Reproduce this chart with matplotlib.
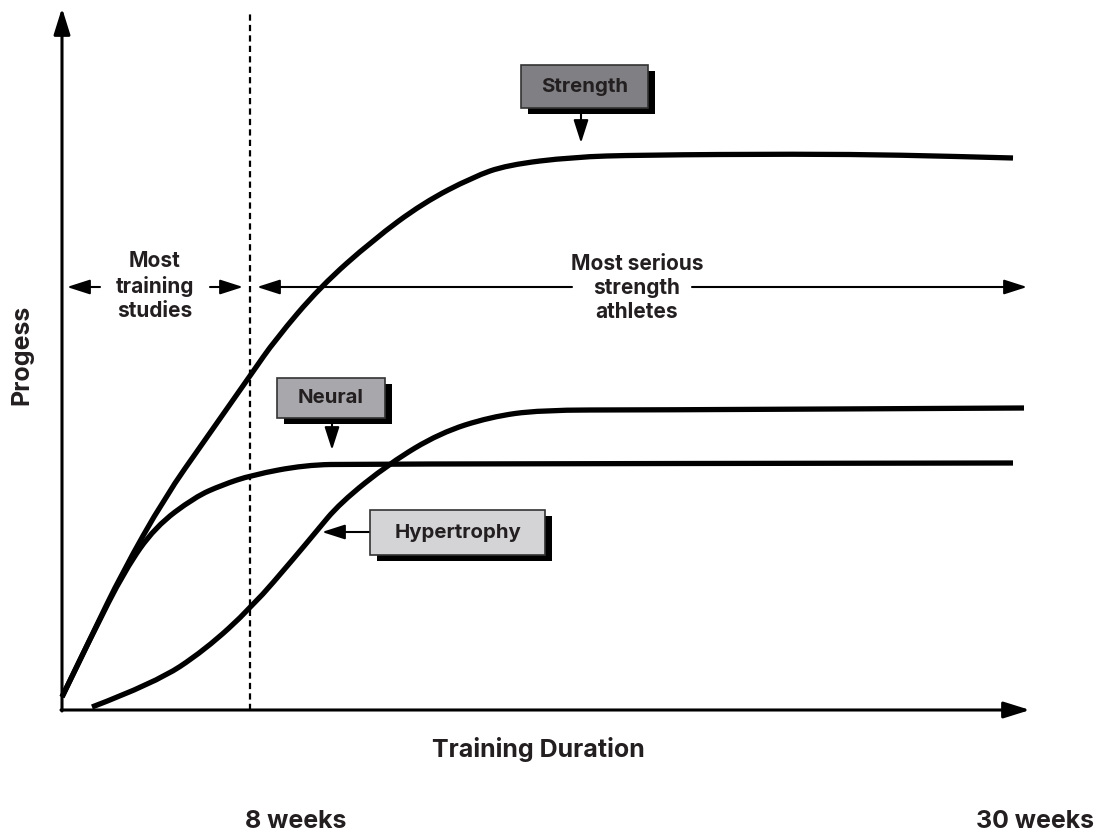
import matplotlib.pyplot as plt
from matplotlib.patches import Rectangle, PathPatch
from matplotlib.path import Path

plt.rcParams['font.family'] = ['Inter', 'DejaVu Sans']

# curve values (duration units, progress units)
strength_x = [0, 30, 60, 103, 143, 190, 213, 258, 311, 361, 411, 445, 511, 578, 738, 838, 951]
strength_y = [13, 75, 137, 213, 270, 337, 370, 423, 470, 507, 533, 545, 553, 555, 556, 555, 552]

neural_x = [0, 30, 63, 93, 133, 160, 190, 243, 293, 951]
neural_y = [13, 75, 140, 183, 213, 225, 235, 245, 246, 247]

hyper_x = [30, 93, 143, 190, 233, 253, 278, 328, 378, 428, 478, 578, 962]
hyper_y = [3, 27, 60, 103, 153, 177, 207, 247, 277, 293, 300, 300, 302]

week_marks = [186, 973]
week_labels = ['8 weeks', '30 weeks']

TXT = '#231f20'

fig = plt.figure(figsize=(10.98, 8.36), dpi=100)
ax = fig.add_axes([0, 0, 1, 1])
ax.set_xlim(-62, 1036)
ax.set_ylim(-126, 710)
ax.axis('off')

# axes with arrow heads
axis_arrow = dict(arrowstyle='-|>,head_length=1.6,head_width=0.5', lw=2.2,
                  color='black', shrinkA=0, shrinkB=0, mutation_scale=10)
ax.annotate('', xy=(0, 702), xytext=(0, -1), arrowprops=axis_arrow)
ax.annotate('', xy=(968, 0), xytext=(-1, 0), arrowprops=axis_arrow)

# 8 week marker
ax.plot([week_marks[0] + 2, week_marks[0] + 2], [0, 698], color='black', lw=1.6,
        dashes=(2.8, 1.9))


def smooth_curve(xs, ys):
    # quadratic bezier through the midpoints, read points act as control points
    verts = [(xs[0], ys[0])]
    codes = [Path.MOVETO]
    for i in range(1, len(xs) - 1):
        verts += [(xs[i], ys[i]), ((xs[i] + xs[i + 1]) / 2, (ys[i] + ys[i + 1]) / 2)]
        codes += [Path.CURVE3, Path.CURVE3]
    verts.append((xs[-1], ys[-1]))
    codes.append(Path.LINETO)
    ax.add_patch(PathPatch(Path(verts, codes), fc='none', ec='black', lw=3.8,
                           capstyle='butt', joinstyle='round'))


smooth_curve(strength_x, strength_y)
smooth_curve(neural_x, neural_y)
smooth_curve(hyper_x, hyper_y)

small_arrow = dict(arrowstyle='-|>,head_length=1.4,head_width=0.45', lw=1.5,
                   color='black', shrinkA=0, shrinkB=0, mutation_scale=10)


def label_box(x0, y0, w, h, text, fill):
    ax.add_patch(Rectangle((x0 + 7, y0 - 6), w, h, fc='black', ec='none', zorder=3))
    ax.add_patch(Rectangle((x0, y0), w, h, fc=fill, ec='#333333', lw=1.2, zorder=4))
    ax.text(x0 + w / 2, y0 + h / 2, text, ha='center', va='center', fontsize=14.7,
            fontweight='bold', color=TXT, zorder=5)


label_box(459, 602, 127, 43, 'Strength', '#808084')
ax.annotate('', xy=(519, 567), xytext=(519, 596), arrowprops=small_arrow)

label_box(215, 292, 108, 40, 'Neural', '#a8a8ac')
ax.annotate('', xy=(270, 260), xytext=(270, 286), arrowprops=small_arrow)

label_box(308, 155, 175, 45, 'Hypertrophy', '#d4d4d6')
ax.annotate('', xy=(260, 178), xytext=(308, 178), arrowprops=small_arrow)

# period spans
ax.text(93, 424, 'Most\ntraining\nstudies', ha='center', va='center', fontsize=15,
        fontweight='bold', color=TXT, linespacing=1.25)
ax.annotate('', xy=(5, 423), xytext=(38, 423), arrowprops=small_arrow)
ax.annotate('', xy=(181, 423), xytext=(148, 423), arrowprops=small_arrow)

ax.text(575, 422, 'Most serious\nstrength\nathletes', ha='center', va='center', fontsize=15,
        fontweight='bold', color=TXT, linespacing=1.25)
ax.annotate('', xy=(195, 423), xytext=(510, 423), arrowprops=small_arrow)
ax.annotate('', xy=(965, 423), xytext=(630, 423), arrowprops=small_arrow)

# axis labels
ax.text(-40, 355, 'Progess', rotation=90, ha='center', va='center', fontsize=18,
        fontweight='bold', color=TXT)
ax.text(476, -39, 'Training Duration', ha='center', va='center', fontsize=18,
        fontweight='bold', color=TXT)
ax.text(week_marks[0] - 3, -111, week_labels[0], ha='left', va='center', fontsize=18,
        fontweight='bold', color=TXT)
ax.text(week_marks[1], -111, week_labels[1], ha='center', va='center', fontsize=18,
        fontweight='bold', color=TXT)

fig.savefig('out.png', dpi=100)
